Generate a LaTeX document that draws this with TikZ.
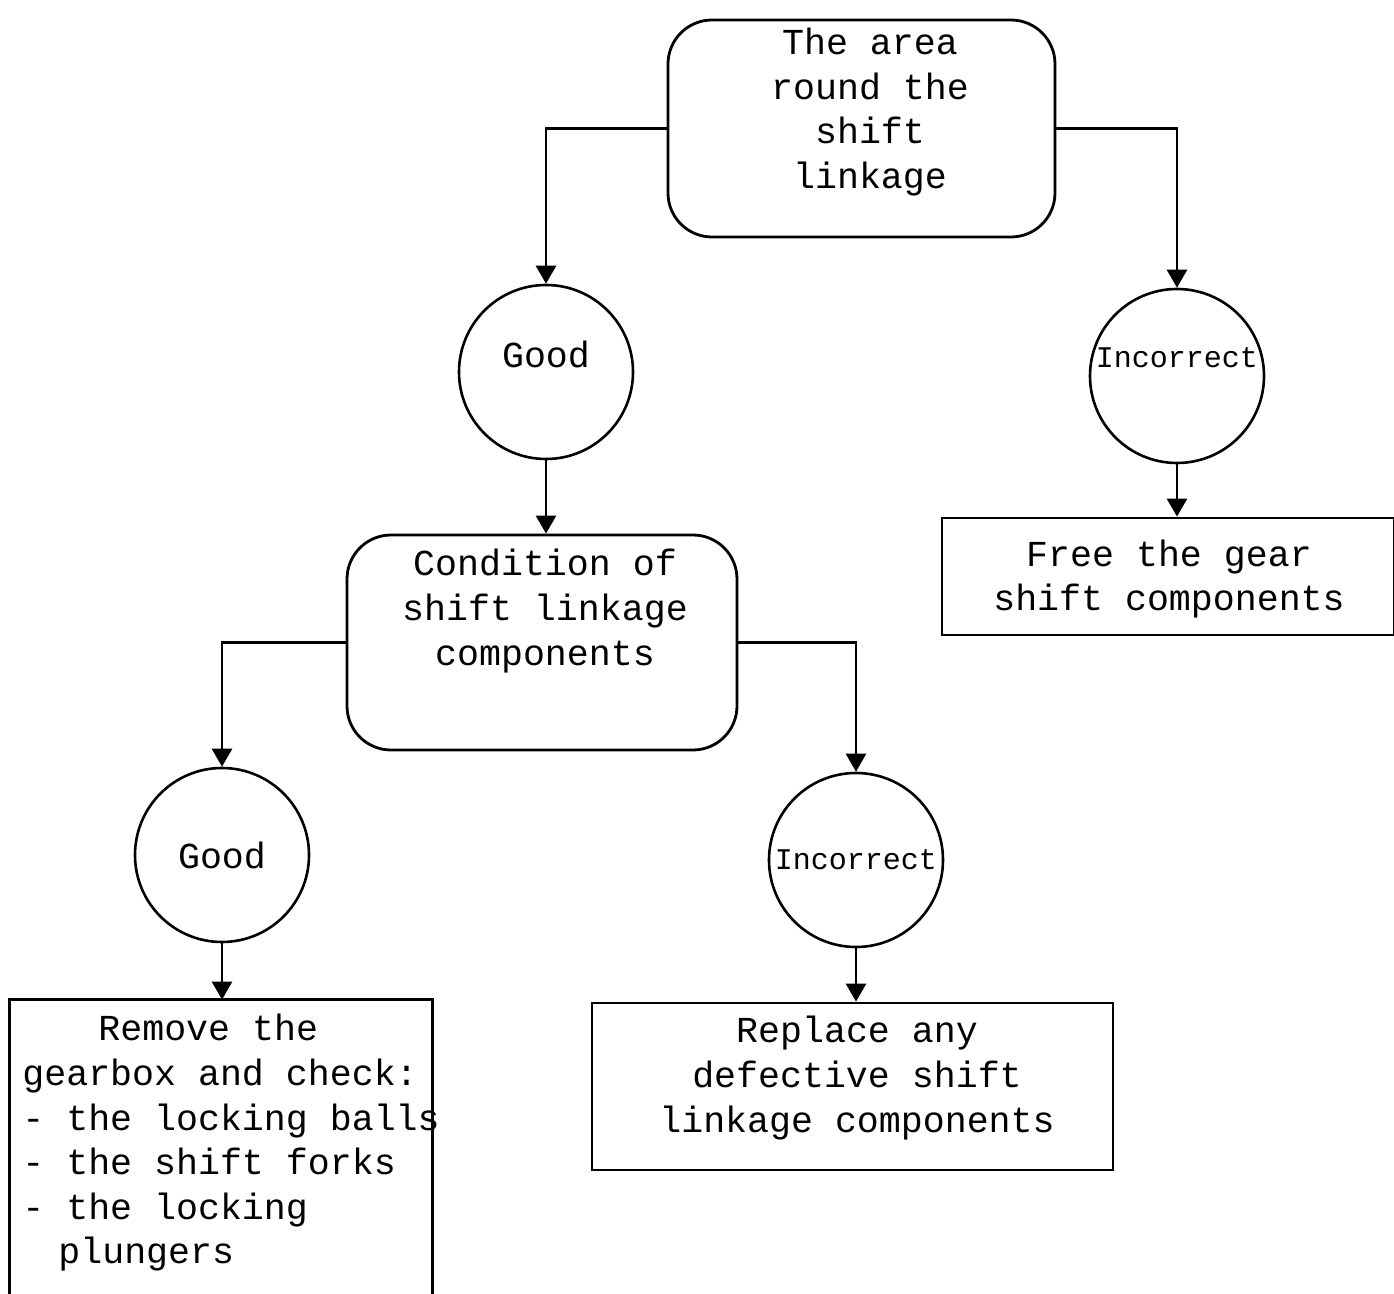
\documentclass[tikz,border=0pt]{standalone}
\usepackage{fontspec}
\setmonofont{Liberation Mono}
\usetikzlibrary{shapes.geometric, positioning, arrows.meta}

\begin{document}
\begin{tikzpicture}[
    x=0.5pt, y=-0.5pt,
    every node/.style={font=\ttfamily\fontsize{18.3}{22.3}\selectfont},
    stepbox/.style={draw, line width=1.4pt, rounded corners=22pt},
    actbox/.style={draw, line width=1.4pt, rectangle},
    answer/.style={draw, circle, line width=1.3pt, minimum size=87pt, inner sep=0pt},
    small/.style={font=\ttfamily\fontsize{15}{18}\selectfont},
    txt/.style={align=center, inner sep=0pt},
    arrow/.style={-{Triangle[length=9pt, width=10pt]}, line width=1.4pt}
]
    \useasboundingbox (0,0) rectangle (1394,1294);

    % boxes
    \node[stepbox, minimum width=193.5pt, minimum height=108.5pt] (area) at (861.5,128.5) {};
    \node[txt] (areatxt) at (870,112) {The area\\round the\\shift\\linkage};

    \node[stepbox, minimum width=195pt, minimum height=107.5pt] (cond) at (542,642.5) {};
    \node[txt] (condtxt) at (545,611) {Condition of\\shift linkage\\components};

    \node[actbox, minimum width=226pt, minimum height=58.5pt] (free) at (1168,576.5) {};
    \node[txt] (freetxt) at (1169,579) {Free the gear\\shift components};

    \node[actbox, minimum width=260.5pt, minimum height=83.5pt] (replace) at (852.5,1086.5) {};
    \node[txt] (repltxt) at (857,1078) {Replace any\\defective shift\\linkage components};

    \node[minimum width=211pt, minimum height=147pt, inner sep=0pt] (remove) at (221,1147) {};
    \draw[line width=1.4pt] (remove.south west) |- (remove.north east) -- (remove.south east);
    \node[align=left, inner sep=0pt, anchor=west] (remtxt) at (22,1143) {\hspace*{38pt}Remove the\\gearbox and check:\\- the locking balls\\- the shift forks\\- the locking\\\hspace*{18pt}plungers};

    % answers
    \node[answer, text depth=18pt] (good1) at (546,372) {Good};
    \node[answer, small, text depth=18pt] (inc1) at (1177,376) {Incorrect};
    \node[answer] (good2) at (222,855) {Good};
    \node[answer, small] (inc2) at (856,860) {Incorrect};

    % connectors
    \draw[arrow] (area.west) -| (good1.north);
    \draw[arrow] (area.east) -| (inc1.north);
    \draw[arrow] (good1.south) -- (good1.south |- cond.north);
    \draw[arrow] (inc1.south) -- (inc1.south |- free.north);
    \draw[arrow] (cond.west) -| (good2.north);
    \draw[arrow] (cond.east) -| (inc2.north);
    \draw[arrow] (good2.south) -- (good2.south |- remove.north);
    \draw[arrow] (inc2.south) -- (inc2.south |- replace.north);
\end{tikzpicture}
\end{document}
